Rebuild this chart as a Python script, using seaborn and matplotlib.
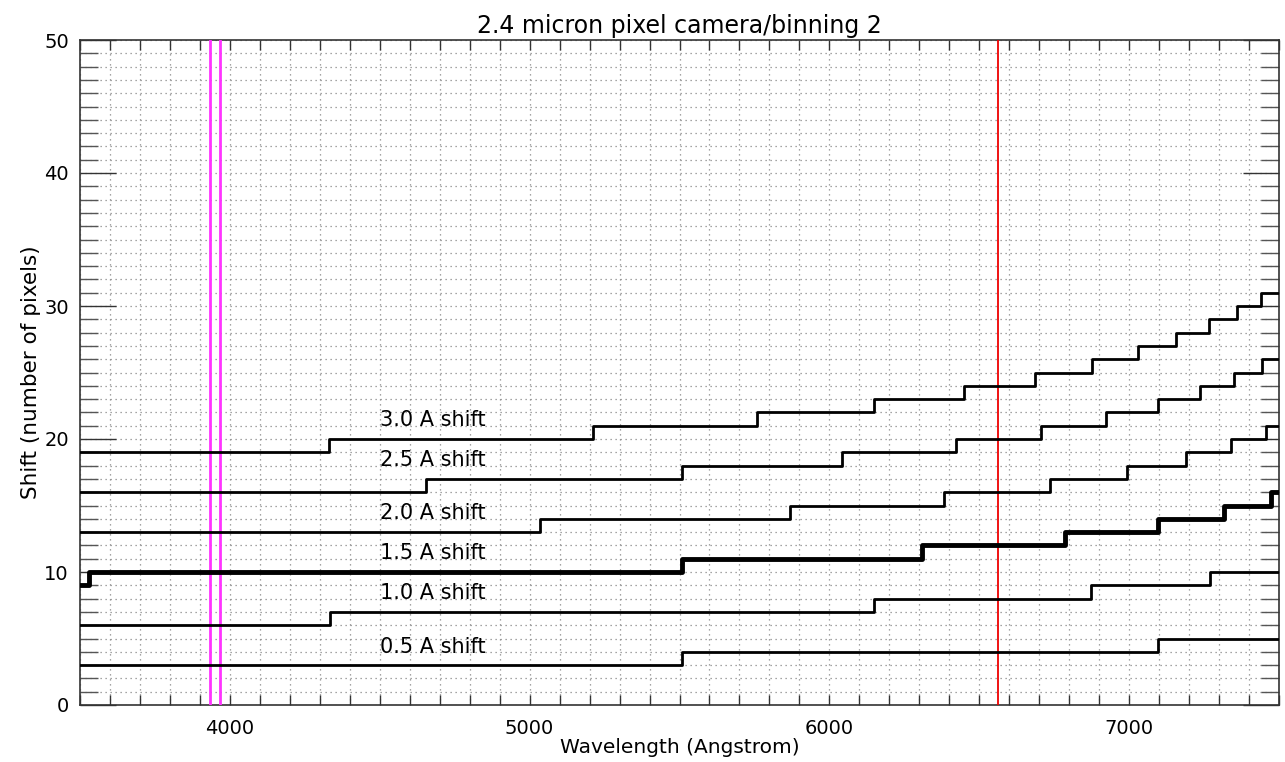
import matplotlib
matplotlib.use("Agg")
import matplotlib.pyplot as plt
from matplotlib.ticker import MultipleLocator
import seaborn as sns
import pandas as pd

# ---- data ----
labels = ["0.5 A shift", "1.0 A shift", "1.5 A shift", "2.0 A shift", "2.5 A shift", "3.0 A shift"]

# wavelengths (Angstrom) where each curve steps up by one pixel
steps_05 = [5510, 7097]
steps_10 = [4333, 6150, 6873, 7270]
steps_15 = [3530, 5510, 6310, 6787, 7097, 7317, 7473]
steps_20 = [5033, 5867, 6383, 6737, 6993, 7190, 7340, 7457]
steps_25 = [4653, 5510, 6043, 6423, 6707, 6923, 7097, 7237, 7350, 7443]
steps_30 = [4331, 5210, 5757, 6150, 6450, 6687, 6877, 7030, 7157, 7267, 7360, 7440]

# pixel shift level at the blue end (3500 A)
start_05 = 3
start_10 = 6
start_15 = 9
start_20 = 13
start_25 = 16
start_30 = 19

# label anchor (y, in pixels of shift)
label_y = [4.35, 8.4, 11.45, 14.4, 18.4, 21.4]
label_x = 4500

ca_lines = [3933.7, 3968.5]
halpha = 6562.8

x_min, x_max = 3500, 7500
y_min, y_max = 0, 50

series = [(steps_05, start_05), (steps_10, start_10), (steps_15, start_15),
          (steps_20, start_20), (steps_25, start_25), (steps_30, start_30)]

rows = []
for lab, (st, s0) in zip(labels, series):
    xs = [x_min] + st + [x_max]
    ys = [s0 + i for i in range(len(st) + 1)]
    ys = ys + [ys[-1]]
    for x, y in zip(xs, ys):
        rows.append({"series": lab, "wavelength": x, "shift": y})
df = pd.DataFrame(rows)

sns.set_theme(style="white")
plt.rcParams["font.family"] = ["DejaVu Sans"]
plt.rcParams["text.color"] = "black"
plt.rcParams["axes.labelcolor"] = "black"
plt.rcParams["xtick.color"] = "black"
plt.rcParams["ytick.color"] = "black"

fig = plt.figure(figsize=(12.85, 7.62), dpi=100)
ax = fig.add_axes([80 / 1285, 1 - 705 / 762, 1199 / 1285, 665 / 762])

# grid
ax.xaxis.set_major_locator(MultipleLocator(1000))
ax.xaxis.set_minor_locator(MultipleLocator(100))
ax.yaxis.set_major_locator(MultipleLocator(10))
ax.yaxis.set_minor_locator(MultipleLocator(1))
ax.grid(True, which="both", linestyle=(0, (1, 3)), color="#888888", linewidth=0.9)
ax.set_axisbelow(True)

for v in ca_lines:
    ax.axvline(v, color="#ff33ff", linewidth=2.0, zorder=3)
ax.axvline(halpha, color="#ee0000", linewidth=1.3, zorder=3)

for lab in labels:
    sub = df[df["series"] == lab]
    lw = 3.5 if lab.startswith("1.5") else 2.0
    sns.lineplot(data=sub, x="wavelength", y="shift", ax=ax, color="black",
                 linewidth=lw, drawstyle="steps-post", estimator=None, sort=False,
                 legend=False, zorder=4)

for lab, ly in zip(labels, label_y):
    ax.text(label_x, ly, lab, fontsize=15, color="black", va="center", ha="left", zorder=5)

ax.set_xlim(x_min, x_max)
ax.set_ylim(y_min, y_max)
ax.set_xticks([4000, 5000, 6000, 7000])
ax.set_yticks([0, 10, 20, 30, 40, 50])

ax.tick_params(axis="x", which="both", direction="in", top=True, bottom=True,
               length=7, width=1, color="#333333", labelsize=14, pad=10, labelcolor="black")
ax.tick_params(axis="y", which="major", direction="in", left=True, right=True,
               length=26, width=1, color="#333333", labelsize=14, pad=8, labelcolor="black")
ax.tick_params(axis="y", which="minor", direction="in", left=True, right=True,
               length=13, width=1, color="#555555")

for sp in ax.spines.values():
    sp.set_color("#333333")
    sp.set_linewidth(1.2)

ax.set_xlabel("Wavelength (Angstrom)", fontsize=14.5, labelpad=0, color="black")
ax.set_ylabel("Shift (number of pixels)", fontsize=15.5, labelpad=2, color="black")
ax.set_title("2.4 micron pixel camera/binning 2", fontsize=17, pad=5, color="black")

fig.savefig("out.png", dpi=100)
